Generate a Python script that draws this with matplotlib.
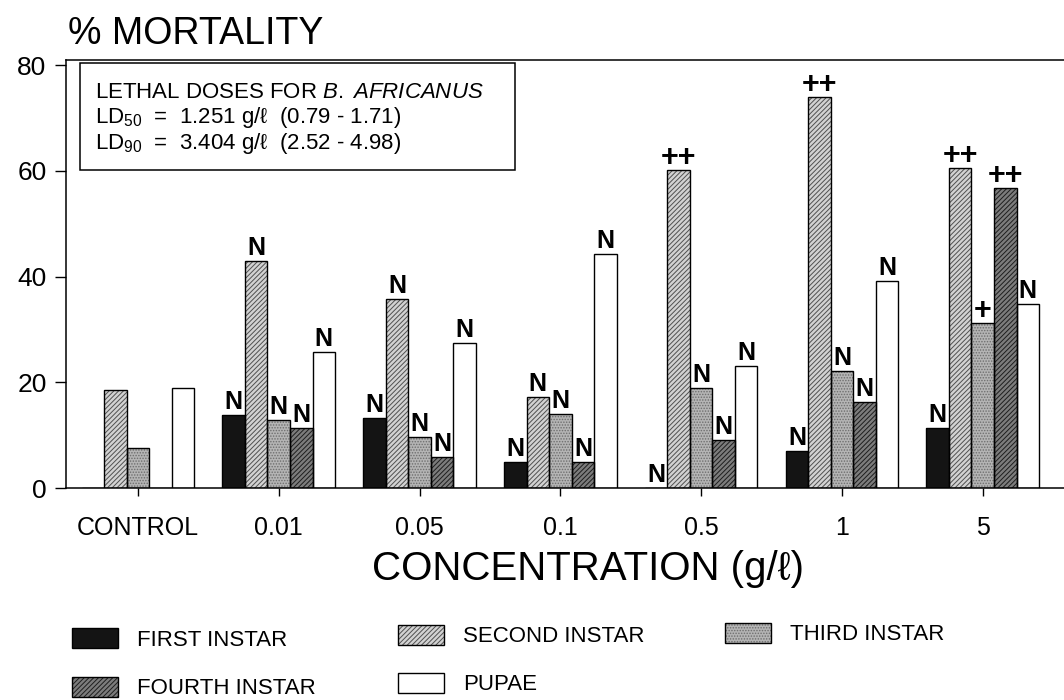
import numpy as np
import matplotlib.pyplot as plt
from matplotlib.patches import Rectangle

plt.rcParams['font.family'] = ['Liberation Sans', 'DejaVu Sans']
plt.rcParams['mathtext.fontset'] = 'custom'
plt.rcParams['mathtext.rm'] = 'Liberation Sans'
plt.rcParams['mathtext.it'] = 'Liberation Sans:italic'
plt.rcParams['hatch.linewidth'] = 0.7

# --- data ---
concentrations = ['CONTROL', '0.01', '0.05', '0.1', '0.5', '1', '5']
series = ['FIRST INSTAR', 'SECOND INSTAR', 'THIRD INSTAR', 'FOURTH INSTAR', 'PUPAE']

first_instar = [0, 13.8, 13.2, 5.0, 0, 7.0, 11.3]
second_instar = [18.6, 42.9, 35.7, 17.2, 60.2, 74.0, 60.5]
third_instar = [7.5, 12.9, 9.7, 14.0, 19.0, 22.2, 31.2]
fourth_instar = [0, 11.4, 5.8, 5.0, 9.0, 16.3, 56.8]
pupae = [18.9, 25.7, 27.4, 44.2, 23.0, 39.2, 34.8]

first_marks = ['', 'N', 'N', 'N', 'N', 'N', 'N']
second_marks = ['', 'N', 'N', 'N', '++', '++', '++']
third_marks = ['', 'N', 'N', 'N', 'N', 'N', '+']
fourth_marks = ['', 'N', 'N', 'N', 'N', 'N', '++']
pupae_marks = ['', 'N', 'N', 'N', 'N', 'N', 'N']

y_ticks = [0, 20, 40, 60, 80]

# --- styles ---
values = [first_instar, second_instar, third_instar, fourth_instar, pupae]
marks = [first_marks, second_marks, third_marks, fourth_marks, pupae_marks]
faces = ['#141414', '#d2d2d2', '#b4b4b4', '#7c7c7c', 'white']
hatches = [None, '///////', '......', '///////', None]
hatch_cols = ['#141414', '#505050', '#6e6e6e', '#1e1e1e', 'white']

fig = plt.figure(figsize=(10.64, 7), dpi=100)
ax = fig.add_axes([66/1064, 1 - 488/700, 1 - 66/1064, (488 - 60)/700])

x = np.arange(len(concentrations))
w = 0.16
for i in range(len(series)):
    xs = x + (i - 2) * w
    ax.bar(xs, values[i], w, color=faces[i], hatch=hatches[i],
           edgecolor=hatch_cols[i], linewidth=0, zorder=2)
    ax.bar(xs, values[i], w, fill=False, edgecolor='black', linewidth=1.0, zorder=3)
    for xx, v, m in zip(xs, values[i], marks[i]):
        if m == 'N':
            ax.text(xx, v + 0.2, m, ha='center', va='bottom', fontsize=18,
                    fontweight='bold', zorder=4)
        elif m:
            ax.text(xx, v - 0.6, m, ha='center', va='bottom', fontsize=22,
                    fontweight='bold', zorder=4)

ax.set_xlim(-0.511, 6.577)
ax.set_ylim(0, 81)
ax.set_yticks(y_ticks)
ax.set_xticks(x)
ax.set_xticklabels(concentrations)
ax.tick_params(axis='y', labelsize=19, length=8, width=1, pad=6)
ax.tick_params(axis='x', labelsize=18, length=6, width=1, pad=14)
ax.spines['right'].set_visible(False)
for s in ['left', 'top', 'bottom']:
    ax.spines[s].set_linewidth(1.1)

fig.text(68/1064, 1 - 44/700, '% MORTALITY', fontsize=27, va='baseline')
fig.text(588/1064, 1 - 580/700, r'CONCENTRATION (g/ℓ)', fontsize=29,
         ha='center', va='baseline')

# overlay in pixel coordinates for inset box and legend
ov = fig.add_axes([0, 0, 1, 1], zorder=5)
ov.set_xlim(0, 1064)
ov.set_ylim(700, 0)
ov.axis('off')
ov.patch.set_alpha(0)

ov.add_patch(Rectangle((80, 63), 435, 107, facecolor='white', edgecolor='black', lw=1.1))
ov.text(95, 92, r'LETHAL DOSES FOR $\it{B.\ AFRICANUS}$', fontsize=16, va='center')
ov.text(95, 118, r'LD$_{50}$  =  1.251 g/ℓ  (0.79 - 1.71)', fontsize=16, va='center')
ov.text(95, 144, r'LD$_{90}$  =  3.404 g/ℓ  (2.52 - 4.98)', fontsize=16, va='center')

leg_x = [72, 398, 725, 72, 398]
leg_y = [638, 635, 633, 687, 683]
for i in range(len(series)):
    ov.add_patch(Rectangle((leg_x[i], leg_y[i] - 10), 46, 20, facecolor=faces[i],
                           hatch=hatches[i], edgecolor=hatch_cols[i], lw=0))
    ov.add_patch(Rectangle((leg_x[i], leg_y[i] - 10), 46, 20, fill=False,
                           edgecolor='black', lw=1.0))
    ov.text(leg_x[i] + 65, leg_y[i] + 2, series[i], fontsize=16, va='center')

fig.savefig('out.png', dpi=100)
